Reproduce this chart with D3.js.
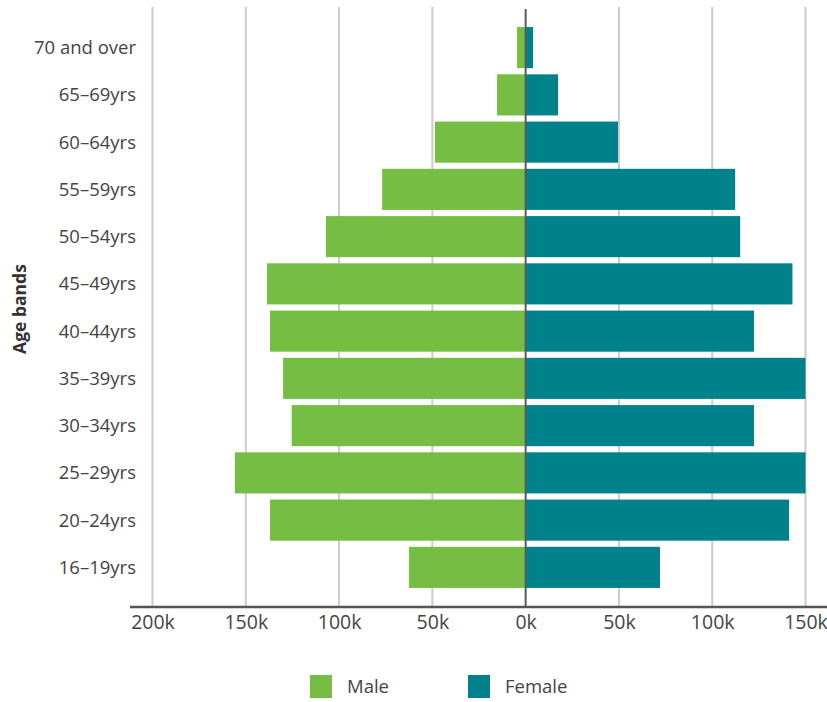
<!DOCTYPE html>
<html>
<head>
<meta charset="utf-8">
<script src="https://cdn.jsdelivr.net/npm/d3@7"></script>
<style>
  html, body { margin: 0; padding: 0; background: #fff; }
  svg { display: block; font-family: "Open Sans", "Noto Sans", sans-serif; }
</style>
</head>
<body>
<svg id="chart" width="827" height="702"></svg>
<script>
// Age bands, oldest at the top
const ageBands = ["70 and over", "65–69yrs", "60–64yrs", "55–59yrs", "50–54yrs", "45–49yrs",
                  "40–44yrs", "35–39yrs", "30–34yrs", "25–29yrs", "20–24yrs", "16–19yrs"];
// Headcount by band
const maleValues   = [4600, 15300, 48600, 76900, 107000, 138600, 137000, 130000, 125400, 155800, 137000, 62500];
const femaleValues = [4000, 17400, 49500, 112300, 115000, 143000, 122400, 150000, 122400, 150000, 141200, 72000];
const tickValues = [-200000, -150000, -100000, -50000, 0, 50000, 100000, 150000];
const seriesNames = ["Male", "Female"];
const seriesColors = ["#76be43", "#00828c"];

const svg = d3.select("#chart");

const x = d3.scaleLinear().domain([-200000, 150000]).range([152.5, 805.5]);
const y = d3.scaleBand().domain(ageBands).range([24, 591]).paddingInner(0.13).paddingOuter(0.065);
const axisY = 607;

// vertical gridlines
svg.append("g").selectAll("line")
  .data(tickValues.filter(d => d !== 0))
  .join("line")
  .attr("x1", d => x(d)).attr("x2", d => x(d))
  .attr("y1", 7).attr("y2", axisY)
  .attr("stroke", "#cccccc").attr("stroke-width", 2);

// male bars extend left of zero
svg.append("g").selectAll("rect")
  .data(ageBands.map((b, i) => ({ band: b, v: maleValues[i] })))
  .join("rect")
  .attr("x", d => x(-d.v))
  .attr("width", d => x(0) - x(-d.v))
  .attr("y", d => y(d.band))
  .attr("height", y.bandwidth())
  .attr("fill", seriesColors[0]);

// female bars extend right of zero
svg.append("g").selectAll("rect")
  .data(ageBands.map((b, i) => ({ band: b, v: femaleValues[i] })))
  .join("rect")
  .attr("x", x(0))
  .attr("width", d => x(d.v) - x(0))
  .attr("y", d => y(d.band))
  .attr("height", y.bandwidth())
  .attr("fill", seriesColors[1]);

// zero line
svg.append("line")
  .attr("x1", x(0)).attr("x2", x(0))
  .attr("y1", 9).attr("y2", axisY)
  .attr("stroke", "#5a5a5a").attr("stroke-width", 2);

// bottom axis
const xAxis = d3.axisBottom(x)
  .tickValues(tickValues)
  .tickSize(0)
  .tickPadding(8)
  .tickFormat(d => Math.abs(d) / 1000 + "k");
const gx = svg.append("g").attr("transform", `translate(0,${axisY})`).call(xAxis);
gx.select(".domain").remove();
gx.selectAll("text")
  .attr("fill", "#444").attr("font-size", 19.5)
  .attr("font-family", "\"Open Sans\", sans-serif");
gx.append("line")
  .attr("x1", 130).attr("x2", 827)
  .attr("y1", 0).attr("y2", 0)
  .attr("stroke", "#555").attr("stroke-width", 2.5);

// band labels
svg.append("g").selectAll("text")
  .data(ageBands)
  .join("text")
  .attr("x", 136)
  .attr("y", d => y(d) + y.bandwidth() / 2)
  .attr("dy", "0.35em")
  .attr("text-anchor", "end")
  .attr("font-size", 18.5)
  .attr("fill", "#444")
  .text(d => d);

// axis title
svg.append("text")
  .attr("transform", "translate(26,309) rotate(-90)")
  .attr("text-anchor", "middle")
  .attr("font-size", 17.5)
  .attr("font-weight", "bold")
  .attr("fill", "#333")
  .text("Age bands");

// legend
const legendX = [310, 468];
const legend = svg.append("g").selectAll("g")
  .data(seriesNames)
  .join("g")
  .attr("transform", (d, i) => `translate(${legendX[i]},675)`);
legend.append("rect")
  .attr("width", 22).attr("height", 23)
  .attr("fill", (d, i) => seriesColors[i]);
legend.append("text")
  .attr("x", 37).attr("y", 12)
  .attr("dy", "0.35em")
  .attr("font-size", 18.5)
  .attr("fill", "#444")
  .text(d => d);
</script>
</body>
</html>
